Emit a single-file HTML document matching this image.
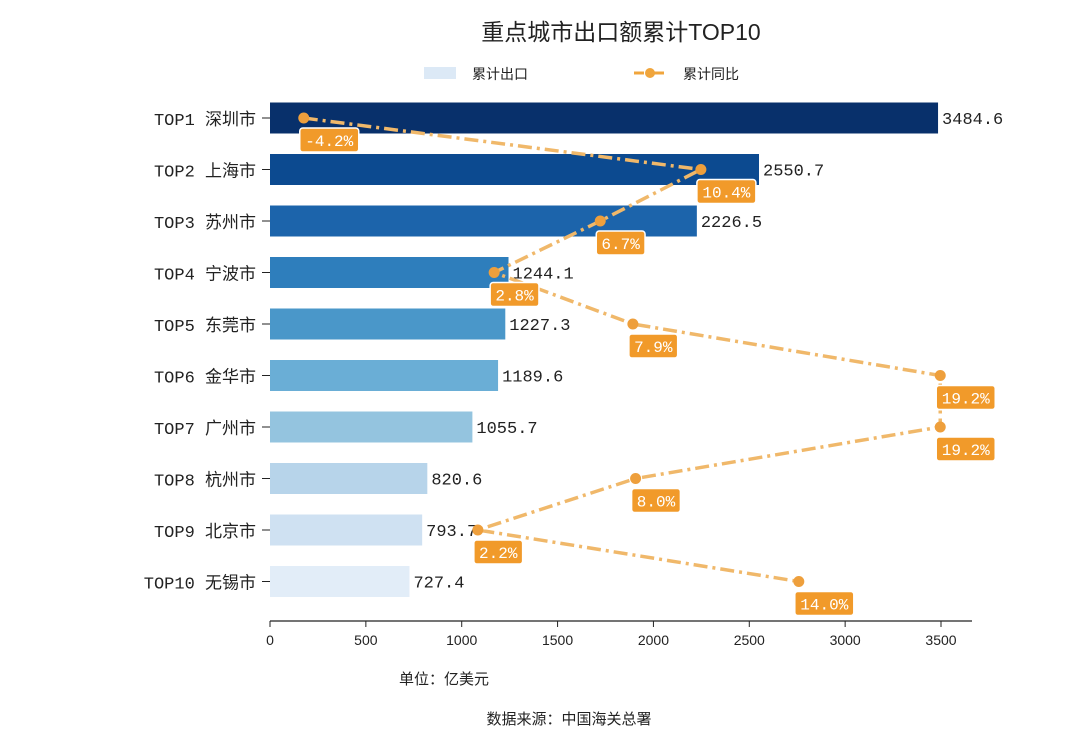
<!DOCTYPE html>
<html><head><meta charset="utf-8"><style>
body{margin:0;background:#fff;}
svg text{font-family:"Liberation Sans","Noto Sans CJK SC",sans-serif;}
svg text.m{font-family:"Liberation Mono","Noto Sans CJK SC",monospace;}
</style></head><body>
<svg id="c" width="1070" height="730" xmlns="http://www.w3.org/2000/svg">
<text x="621" y="40" text-anchor="middle" font-size="23" fill="#222">重点城市出口额累计TOP10</text>
<g>
<rect x="424" y="67" width="32" height="12" fill="#dce9f6"/>
<text x="472" y="79" font-size="14" fill="#222">累计出口</text>
<line x1="634" y1="73" x2="666" y2="73" stroke="#f0a53c" stroke-width="3" stroke-dasharray="10,4,2,4"/>
<circle cx="650" cy="73" r="5" fill="#f0a53c"/>
<text x="683" y="79" font-size="14" fill="#222">累计同比</text>
</g>
<g id="plot"></g>
<text x="444" y="684" text-anchor="middle" font-size="15" fill="#222">单位：亿美元</text>
<text x="569" y="724" text-anchor="middle" font-size="15" fill="#222">数据来源：中国海关总署</text>
</svg>
<script>
const categories=["TOP1 深圳市","TOP2 上海市","TOP3 苏州市","TOP4 宁波市","TOP5 东莞市","TOP6 金华市","TOP7 广州市","TOP8 杭州市","TOP9 北京市","TOP10 无锡市"];
const exportValues=[3484.6,2550.7,2226.5,1244.1,1227.3,1189.6,1055.7,820.6,793.7,727.4];
const yoyValues=[-4.2,10.4,6.7,2.8,7.9,19.2,19.2,8.0,2.2,14.0];
const xTicks=[0,500,1000,1500,2000,2500,3000,3500];
const colors=["#08306b","#0c4a90","#1c64ab","#2e7ebc","#4a97c9","#6aaed6","#94c4df","#b7d4ea","#cfe1f2","#e2edf8"];
const NS="http://www.w3.org/2000/svg";
const g=document.getElementById("plot");
const xs=v=>270+v*671/3500;
const ys=i=>118+i*51.5;
const xl=v=>418+v*27.2;
function el(t,a,p){const e=document.createElementNS(NS,t);for(const k in a)e.setAttribute(k,a[k]);(p||g).appendChild(e);return e;}
let e;
categories.forEach((c,i)=>{
 e=el("rect",{x:270,y:ys(i)-15.5,width:xs(exportValues[i])-270,height:31,fill:colors[i]});
 
 
 e=el("text",{x:xs(exportValues[i])+4,y:ys(i)+6,"font-size":17,fill:"#222",class:"m"});e.textContent=exportValues[i].toFixed(1);
 
 
 e=el("text",{x:256,y:ys(i)+7,"text-anchor":"end","font-size":17,fill:"#222",class:"m"});e.textContent=c;
 
 
 e=el("line",{x1:262,x2:270,y1:ys(i),y2:ys(i),stroke:"#222"});
 
 
});
e=el("line",{x1:270,x2:972,y1:621,y2:621,stroke:"#222","stroke-width":1.2});


xTicks.forEach(t=>{
 e=el("line",{x1:xs(t),x2:xs(t),y1:621,y2:627,stroke:"#222"});
 
 
 e=el("text",{x:xs(t),y:645,"text-anchor":"middle","font-size":14,fill:"#222"});e.textContent=t;
 
 
});
const pts=yoyValues.map((v,i)=>xl(v)+","+ys(i)).join(" ");
e=el("polyline",{points:pts,fill:"none",stroke:"#f0b86a","stroke-width":3.5,"stroke-dasharray":"14,5,3,5"});


yoyValues.forEach((v,i)=>{
 e=el("circle",{cx:xl(v),cy:ys(i),r:5.5,fill:"#ee9f3c"});
 
 
 const s=v.toFixed(1)+"%";const w=s.length*10.2+8;
 e=el("rect",{x:xl(v)-4,y:ys(i)+10,width:w,height:24,rx:3,fill:"#f19a2a",stroke:"#fff","stroke-width":1.5});
 
 
 e=el("text",{x:xl(v)-4+w/2,y:ys(i)+28,"text-anchor":"middle","font-size":16,fill:"#fff",class:"m"});e.textContent=s;
 
 
});
</script>
</body></html>
